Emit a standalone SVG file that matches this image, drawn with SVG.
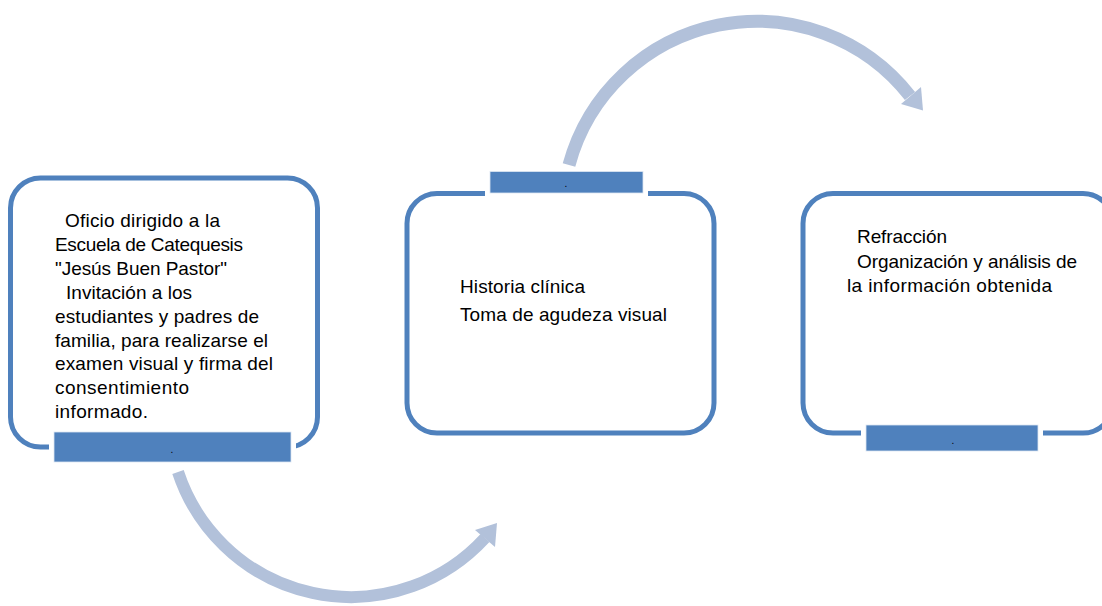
<svg xmlns="http://www.w3.org/2000/svg" width="1102" height="606" viewBox="0 0 1102 606">
  <style>
    .frame { fill: #FFFFFF; stroke: #4F81BD; stroke-width: 5; }
    .gap { fill: #FFFFFF; }
    .tab { fill: #4F81BD; stroke: #DCE6F2; stroke-width: 0.8; }
    .label { font-family: "Liberation Sans", Arial, sans-serif; font-size: 19px; fill: #000000; }
    .dot { font-family: "Liberation Sans", Arial, sans-serif; font-size: 10px; fill: #000000; text-anchor: middle; }
    .flow { fill: none; stroke: #B2C1DA; }
    .head { fill: #B2C1DA; }
  </style>
  <rect width="1102" height="606" fill="#FFFFFF"/>

  <!-- curved connectors between the steps -->
  <g id="connectors">
    <path class="flow" stroke-width="12" d="M 178 472 A 182 182 0 0 0 485 538"/>
    <polygon class="head" points="475,530 497,523 495,547"/>
    <path class="flow" stroke-width="13" d="M 569 165 A 194.5 194.5 0 0 1 910 96"/>
    <polygon class="head" points="901,104 923,110.5 921,87"/>
  </g>

  <!-- step 1 -->
  <g id="step1">
    <rect class="frame" x="10.5" y="178" width="307" height="269" rx="30" ry="30"/>
    <rect class="gap" x="49" y="440" width="247" height="15"/>
    <rect class="tab" x="54" y="432" width="237" height="30"/>
    <text class="dot" x="172" y="453">.</text>
    <g class="label">
      <text x="65" y="227" textLength="155" lengthAdjust="spacing">Oficio dirigido a la</text>
      <text x="55" y="251" textLength="188" lengthAdjust="spacing">Escuela de Catequesis</text>
      <text x="55" y="275" textLength="172" lengthAdjust="spacing">"Jesús Buen Pastor"</text>
      <text x="66" y="299" textLength="126" lengthAdjust="spacing">Invitación a los</text>
      <text x="55" y="323" textLength="204" lengthAdjust="spacing">estudiantes y padres de</text>
      <text x="55" y="347" textLength="213" lengthAdjust="spacing">familia, para realizarse el</text>
      <text x="55" y="370" textLength="218" lengthAdjust="spacing">examen visual y firma del</text>
      <text x="55" y="394" textLength="134" lengthAdjust="spacing">consentimiento</text>
      <text x="55" y="418" textLength="93" lengthAdjust="spacing">informado.</text>
    </g>
  </g>

  <!-- step 2 -->
  <g id="step2">
    <rect class="frame" x="407" y="193.5" width="307" height="239.5" rx="30" ry="30"/>
    <rect class="gap" x="485" y="186" width="163" height="15"/>
    <rect class="tab" x="490" y="171.5" width="153" height="21.5"/>
    <text class="dot" x="566" y="187">.</text>
    <g class="label">
      <text x="460" y="293" textLength="125" lengthAdjust="spacing">Historia clínica</text>
      <text x="460" y="321" textLength="207" lengthAdjust="spacing">Toma de agudeza visual</text>
    </g>
  </g>

  <!-- step 3 -->
  <g id="step3">
    <rect class="frame" x="803" y="193.5" width="310" height="239.5" rx="30" ry="30"/>
    <rect class="gap" x="861" y="426" width="182" height="15"/>
    <rect class="tab" x="866" y="425" width="172" height="26"/>
    <text class="dot" x="953" y="444">.</text>
    <g class="label">
      <text x="857" y="243" textLength="90" lengthAdjust="spacing">Refracción</text>
      <text x="857" y="268" textLength="220" lengthAdjust="spacing">Organización y análisis de</text>
      <text x="847" y="292" textLength="205" lengthAdjust="spacing">la información obtenida</text>
    </g>
  </g>
</svg>
